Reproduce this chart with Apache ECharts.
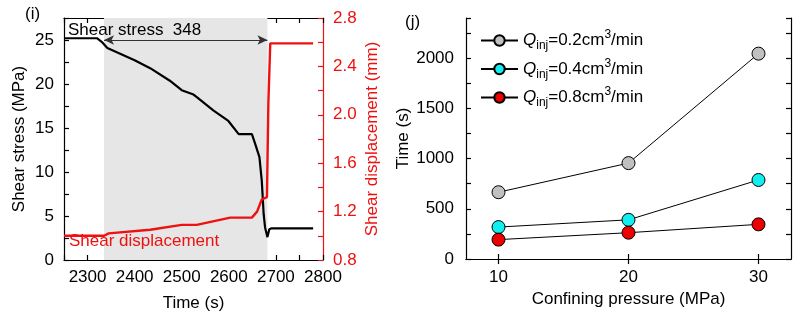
<!DOCTYPE html>
<html>
<head>
<meta charset="utf-8">
<script src="https://cdn.jsdelivr.net/npm/echarts@6/dist/echarts.min.js"></script>
<style>html,body{margin:0;padding:0;background:#fff}#c{width:800px;height:322px}</style>
</head>
<body>
<div id="c"></div>
<script>
// Panel (i): shear stress and displacement vs time
const stressTime = [2250, 2320, 2330, 2342, 2400, 2433, 2474, 2500, 2525, 2532, 2567, 2599, 2621, 2649, 2656, 2665, 2670, 2674, 2677, 2682, 2686, 2691, 2779];
const stressVals = [25.2, 25.2, 24.8, 24.1, 22.7, 21.8, 20.4, 19.3, 18.8, 18.5, 17.0, 15.8, 14.3, 14.3, 13.2, 11.7, 9.0, 5.2, 3.7, 2.6, 3.5, 3.6, 3.6];
const dispTime = [2250, 2335, 2345, 2433, 2500, 2532, 2603, 2649, 2660, 2670, 2681, 2684, 2688, 2779];
const dispVals = [1.0, 1.0, 1.02, 1.05, 1.09, 1.09, 1.15, 1.15, 1.2, 1.3, 1.32, 2.1, 2.59, 2.59];
const shadeRange = [2335, 2682];
const arrowLevel = 25.0;

// Panel (j): time vs confining pressure
const pressure = [10, 20, 30];
const q02 = [665, 955, 2045];
const q04 = [318, 390, 787];
const q08 = [193, 262, 345];
const seriesNames = ['q02', 'q04', 'q08'];
const seriesRates = ['0.2', '0.4', '0.8'];
const xTicksJ = [10, 20, 30];

const FONT = 'Liberation Sans, Arial, sans-serif';
const FS = 17;
const RED = '#ee1111';
const zip = (a, b) => a.map((v, i) => [v, b[i]]);

const chart = echarts.init(document.getElementById('c'), null, {renderer: 'canvas'});

const axisBase = (color) => ({
  axisLine: {show: true, lineStyle: {color: color, width: 1.2}},
  axisTick: {show: true, inside: true, length: 5, lineStyle: {color: color, width: 1.2}},
  splitLine: {show: false},
  axisLabel: {color: color, fontSize: FS, fontFamily: FONT},
  nameTextStyle: {color: color, fontSize: FS, fontFamily: FONT}
});

const option = {
  animation: false,
  textStyle: {fontFamily: FONT},
  grid: [
    {left: 64, right: 477, top: 18, bottom: 62},
    {left: 466, right: 9, top: 18, bottom: 63}
  ],
  xAxis: [
    Object.assign(axisBase('#000'), {
      type: 'value', gridIndex: 0, position: 'bottom', min: 2250, max: 2800, interval: 50,
      name: 'Time (s)', nameLocation: 'middle', nameGap: 35,
      axisLabel: {color: '#000', fontSize: FS, fontFamily: FONT, margin: 9,
        formatter: v => (v % 100 === 0 ? String(v) : '')}
    }),
    Object.assign(axisBase('#000'), {
      type: 'value', gridIndex: 0, position: 'top', min: 2250, max: 2800, interval: 50,
      axisLabel: {show: false}
    }),
    Object.assign(axisBase('#000'), {
      type: 'value', gridIndex: 1, position: 'bottom', min: 7.5, max: 32.5,
      name: 'Confining pressure (MPa)', nameLocation: 'middle', nameGap: 29,
      axisTick: {show: true, inside: true, length: 5, customValues: xTicksJ, lineStyle: {color: '#000', width: 1.2}},
      axisLabel: {color: '#000', fontSize: FS, fontFamily: FONT, margin: 10, customValues: xTicksJ}
    }),
    Object.assign(axisBase('#000'), {
      type: 'value', gridIndex: 1, position: 'top', min: 7.5, max: 32.5,
      axisTick: {show: true, inside: true, length: 5, customValues: xTicksJ, lineStyle: {color: '#000', width: 1.2}},
      axisLabel: {show: false, customValues: xTicksJ}
    })
  ],
  yAxis: [
    Object.assign(axisBase('#000'), {
      type: 'value', gridIndex: 0, position: 'left', min: 0, max: 27.5, interval: 2.5,
      name: 'Shear stress (MPa)', nameLocation: 'middle', nameGap: 36,
      axisLabel: {color: '#000', fontSize: FS, fontFamily: FONT, margin: 10,
        formatter: v => (Math.abs(v % 5) < 1e-6 ? String(Math.round(v)) : '')}
    }),
    Object.assign(axisBase(RED), {
      type: 'value', gridIndex: 0, position: 'right', min: 0.8, max: 2.8, interval: 0.2,
      name: 'Shear displacement (mm)', nameLocation: 'middle', nameGap: 41,
      axisLabel: {color: RED, fontSize: FS, fontFamily: FONT, margin: 10,
        formatter: v => (Math.round(v * 10) % 4 === 0 ? v.toFixed(1) : '')}
    }),
    Object.assign(axisBase('#000'), {
      type: 'value', gridIndex: 1, position: 'left', min: 0, max: 2400, interval: 250,
      name: 'Time (s)', nameLocation: 'middle', nameGap: 52,
      axisLabel: {color: '#000', fontSize: FS, fontFamily: FONT, margin: 12,
        formatter: v => (v % 500 === 0 ? String(v) : '')}
    }),
    Object.assign(axisBase('#000'), {
      type: 'value', gridIndex: 1, position: 'right', min: 0, max: 2400, interval: 250,
      axisLabel: {show: false}
    })
  ],
  legend: {
    data: seriesNames,
    orient: 'vertical',
    left: 480, top: 29, padding: 0,
    itemWidth: 37, itemHeight: 13, itemGap: 5.5,
    formatter: name => {
      const r = seriesRates[seriesNames.indexOf(name)];
      return '{q|Q}{sub|inj}{n|=' + r + 'cm}{sup|3}{n|/min}';
    },
    textStyle: {
      color: '#000', fontSize: FS, fontFamily: FONT,
      rich: {
        q: {fontStyle: 'italic', fontSize: FS, lineHeight: 23, fontFamily: FONT, color: '#000'},
        n: {fontSize: FS, lineHeight: 23, fontFamily: FONT, color: '#000'},
        sub: {fontSize: 12, lineHeight: 11, verticalAlign: 'bottom', fontFamily: FONT, color: '#000'},
        sup: {fontSize: 12, lineHeight: 12, verticalAlign: 'top', fontFamily: FONT, color: '#000'}
      }
    }
  },
  graphic: [
    {type: 'text', left: 25, top: 6, z: 100, style: {text: '(i)', fontSize: FS, fontFamily: FONT, fill: '#000'}},
    {type: 'text', left: 405, top: 14, z: 100, style: {text: '(j)', fontSize: FS, fontFamily: FONT, fill: '#000'}},
    {type: 'text', left: 68, top: 22, z: 100, style: {text: 'Shear stress  348', fontSize: FS, fontFamily: FONT, fill: '#000'}},
    {type: 'text', left: 69, top: 233, z: 100, style: {text: 'Shear displacement', fontSize: FS, fontFamily: FONT, fill: RED}}
  ],
  series: [
    {
      name: 'shade', type: 'line', xAxisIndex: 0, yAxisIndex: 0, data: [], z: 0, silent: true,
      markArea: {silent: true, itemStyle: {color: '#e6e6e6'},
        data: [[{xAxis: shadeRange[0]}, {xAxis: shadeRange[1]}]]}
    },
    {
      name: 'stress', type: 'line', xAxisIndex: 0, yAxisIndex: 0, z: 3,
      data: zip(stressTime, stressVals), showSymbol: false, symbol: 'none',
      lineStyle: {color: '#000', width: 2.2},
      markLine: {
        silent: true, symbol: ['arrow', 'arrow'], symbolSize: [7, 10],
        label: {show: false},
        lineStyle: {color: '#333', width: 1, type: 'solid'},
        data: [[{coord: [shadeRange[0], arrowLevel]}, {coord: [shadeRange[1], arrowLevel]}]]
      }
    },
    {
      name: 'disp', type: 'line', xAxisIndex: 0, yAxisIndex: 1, z: 4,
      data: zip(dispTime, dispVals), showSymbol: false, symbol: 'none',
      lineStyle: {color: RED, width: 2.4}
    },
    {
      name: 'q02', type: 'line', xAxisIndex: 2, yAxisIndex: 2, data: zip(pressure, q02),
      symbol: 'circle', symbolSize: 13,
      lineStyle: {color: '#000', width: 1},
      itemStyle: {color: '#c0c0c0', borderColor: '#000', borderWidth: 1}
    },
    {
      name: 'q04', type: 'line', xAxisIndex: 2, yAxisIndex: 2, data: zip(pressure, q04),
      symbol: 'circle', symbolSize: 13,
      lineStyle: {color: '#000', width: 1},
      itemStyle: {color: '#11eef0', borderColor: '#000', borderWidth: 1}
    },
    {
      name: 'q08', type: 'line', xAxisIndex: 2, yAxisIndex: 2, data: zip(pressure, q08),
      symbol: 'circle', symbolSize: 13,
      lineStyle: {color: '#000', width: 1},
      itemStyle: {color: '#ee0000', borderColor: '#000', borderWidth: 1}
    }
  ]
};
chart.setOption(option);
</script>
</body>
</html>
